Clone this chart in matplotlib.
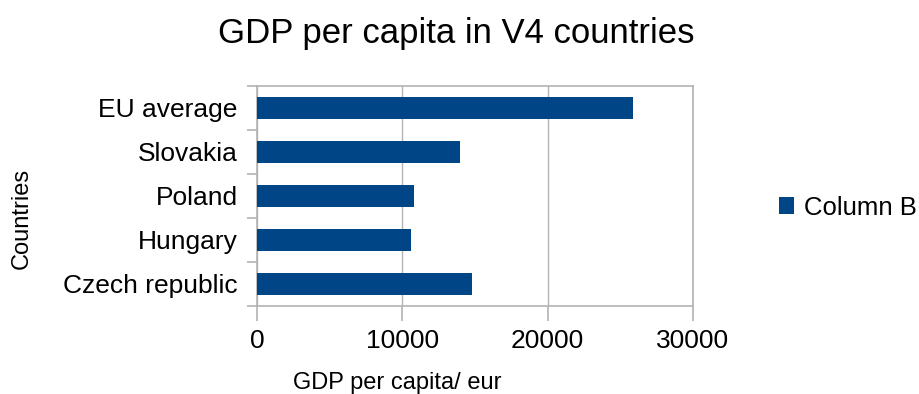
import numpy as np
import matplotlib.pyplot as plt
from matplotlib.ticker import FixedLocator

plt.rcParams['font.family'] = ['Liberation Sans', 'DejaVu Sans']

countries = ["Czech republic", "Hungary", "Poland", "Slovakia", "EU average"]
gdp = [14800, 10600, 10800, 14000, 25900]
x_ticks = [0, 10000, 20000, 30000]

BLUE = "#004586"
GREY = "#b3b3b3"

fig = plt.figure(figsize=(9.19, 3.94), dpi=100)
ax = fig.add_axes([0.2797, 0.224, 0.4744, 0.558])

pos = np.arange(len(countries))
ax.barh(pos, gdp, height=0.5, color=BLUE, label="Column B", zorder=3)

ax.set_xlim(0, 30000)
ax.set_ylim(-0.5, len(countries) - 0.5)
ax.set_xticks(x_ticks)
ax.set_xticklabels([str(t) for t in x_ticks], fontsize=19)
ax.set_yticks(pos)
ax.set_yticklabels(countries, fontsize=19)
ax.yaxis.set_minor_locator(FixedLocator(np.arange(-0.5, len(countries), 1.0)))

ax.grid(axis="x", color=GREY, linewidth=1.0, zorder=0)
for s in ax.spines.values():
    s.set_color(GREY)
    s.set_linewidth(1.2)

ax.tick_params(axis="y", which="major", length=0, pad=14)
ax.tick_params(axis="y", which="minor", length=7, width=1.2, color=GREY)
ax.tick_params(axis="x", which="major", length=11, width=1.2, color=GREY, pad=6)

fig.text(0.497, 0.915, "GDP per capita in V4 countries", ha="center", va="center", fontsize=25)
fig.text(0.432, 0.027, "GDP per capita/ eur", ha="center", va="center", fontsize=17)
fig.text(0.024, 0.445, "Countries", ha="center", va="center", rotation=90, fontsize=17)

fig.legend(loc="center left", bbox_to_anchor=(0.836, 0.473), frameon=False,
           fontsize=18.5, handlelength=0.6, handleheight=0.6, handletextpad=0.4,
           borderaxespad=0)

fig.savefig("out.png", dpi=100)
